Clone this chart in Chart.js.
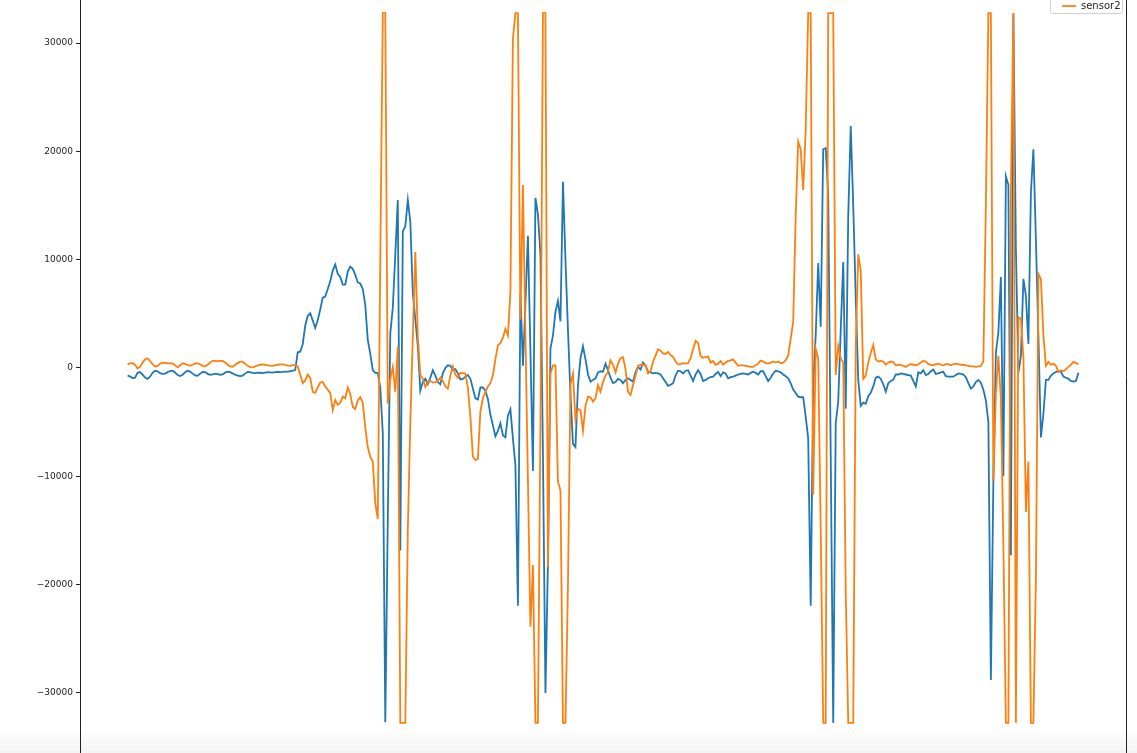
<!DOCTYPE html>
<html>
<head>
<meta charset="utf-8">
<script src="https://cdn.jsdelivr.net/npm/chart.js"></script>
<style>
html, body { margin: 0; padding: 0; background: #fff; }
#wrap { width: 1137px; height: 753px; }
</style>
</head>
<body>
<div id="wrap"><canvas id="plot" width="1137" height="753"></canvas></div>
<script>
// two sensor channels, one sample per index
const seriesNames = ['sensor1', 'sensor2'];

const sensor1 = [
  -710,-780,-920,-900,-450,-380,-620,-880,-1010,-800,
  -450,-260,-300,-480,-550,-520,-380,-280,-250,-420,
  -650,-740,-620,-400,-260,-330,-520,-680,-710,-520,
  -360,-380,-540,-620,-580,-520,-560,-620,-580,-430,
  -340,-380,-500,-620,-700,-740,-700,-520,-360,-380,
  -460,-470,-430,-440,-470,-420,-380,-400,-420,-390,
  -360,-380,-360,-340,-330,-300,-250,-190,1450,1500,
  2200,3900,4800,5050,4400,3700,4400,5400,6500,6600,
  7300,8000,9000,9550,8700,8400,7700,7700,8900,9350,
  9150,8600,7900,7800,7300,5800,2600,1300,-200,-450,
  -450,-1800,-6000,-32700,-14000,3200,5570,10500,15500,-16850,
  12600,13100,15500,13500,6900,4500,2000,-2100,-1300,-1000,
  -1500,-900,-200,-700,-1300,-1500,-500,0,250,200,
  -200,-100,-500,-1050,-1000,-800,-650,-1000,-1900,-2800,
  -2900,-1800,-1800,-2100,-2850,-4300,-5300,-6300,-5800,-5100,
  -6200,-6400,-4400,-3800,-6500,-9000,-21950,6900,200,6000,
  12200,1500,-9500,15700,14200,10500,-8000,-30000,-18000,1800,
  3000,5200,6200,4300,17200,10000,3500,-2500,-7000,-7300,
  -1600,900,2000,800,-600,-1260,-1100,-950,-400,-300,
  -350,400,-200,-900,-1400,-1300,-1000,-1100,-1400,-1100,
  -950,-1100,-1250,-400,100,-150,500,200,-340,-400,
  -500,-450,-500,-600,-950,-1300,-1650,-1550,-1400,-700,
  -250,-300,-500,-250,-200,-700,-1200,-600,-200,-550,
  -1200,-1100,-950,-850,-800,-550,-350,-750,-400,-500,
  -950,-850,-800,-700,-600,-550,-500,-550,-600,-450,
  -340,-450,-600,-300,-300,-750,-1200,-900,-500,-250,
  -300,-400,-600,-750,-950,-1400,-2000,-2300,-2640,-2700,
  -2700,-4500,-6500,-21950,-1500,3000,9700,3800,20200,20300,
  16000,-8000,-32768,-5100,-3100,3500,9780,-3750,14000,22350,
  15000,6500,-1100,-3500,-3200,-3300,-2600,-2300,-1700,-900,
  -800,-1000,-1500,-2200,-1400,-1200,-1100,-600,-600,-500,
  -550,-600,-650,-700,-1200,-1700,-400,-500,-200,-650,
  -550,-300,-150,-550,-500,-400,-350,-750,-800,-800,
  -800,-650,-500,-550,-600,-850,-1400,-1900,-1700,-1300,
  -1100,-1350,-2000,-3000,-5000,-28800,-10400,1400,3300,8400,
  -10000,17700,16900,-17300,32767,10900,-420,1100,8230,6670,
  2230,16200,20200,11800,2900,-6420,-4200,-1100,-1100,-700,
  -500,-350,-300,-350,-800,-900,-1000,-1200,-1260,-1200,-430
];

const sensor2 = [
  340,420,450,300,-50,100,500,800,900,650,
  350,130,200,400,490,480,430,420,430,250,
  60,250,430,380,280,200,300,420,430,350,
  200,150,300,500,660,650,640,660,650,500,
  300,150,120,300,450,580,580,400,200,80,
  60,150,250,300,340,300,250,220,200,250,
  300,340,340,280,220,200,250,280,150,-600,
  -1400,-1150,-600,-900,-2200,-2300,-1800,-1350,-1300,-1700,
  -2000,-2300,-3880,-2950,-3400,-3200,-2650,-2800,-1800,-2400,
  -3600,-3800,-3000,-2700,-3200,-5500,-7300,-8200,-8630,-12500,
  -13950,10000,32767,32767,-3300,-1000,100,-2200,2000,-32768,
  -32768,-32768,-15000,-5000,2900,10700,2900,-650,-1000,-1750,
  -1300,-1200,-1350,-1300,-1200,-880,-1200,-1700,-1900,-700,
  150,-600,-900,-450,-500,-500,-1800,-4500,-8190,-8500,
  -8400,-4000,-2800,-2200,-1700,-1400,-700,800,2100,2300,
  2800,3600,3000,7000,30400,32767,32767,4460,16900,3000,
  -10400,-23900,-18200,-32768,-32768,-5000,32767,32767,-18400,-500,
  240,240,-10500,-11300,-32768,-32768,-20000,-1500,-500,-4800,
  -3750,-3900,-5800,-3500,-2640,-2700,-3100,-2800,-1570,-2190,
  -1300,-700,-340,700,300,-400,400,900,990,-100,
  -2200,-2500,-1570,-700,200,300,300,250,-500,-300,
  590,1150,1720,1600,1350,1300,1500,1200,1050,600,
  320,350,450,400,450,900,1700,2500,2300,1100,
  950,1000,1050,500,650,300,400,650,300,500,
  650,700,800,500,200,250,250,200,150,100,
  100,250,400,680,600,450,400,500,600,500,
  600,450,500,700,1130,2700,4250,14000,20900,20200,
  16450,22000,32767,32767,-11700,1790,900,-14850,-32768,-32768,
  32767,32767,32767,-650,2030,900,500,-20600,-32768,-32768,
  -32768,2000,10500,9000,-1000,-700,500,1400,2120,800,
  600,650,600,300,500,600,550,250,300,280,
  200,100,250,350,300,250,350,500,650,600,
  350,300,250,350,400,300,250,350,350,250,
  350,400,350,300,300,250,200,150,150,100,
  150,200,600,15000,32767,32767,-10400,-2400,1130,-2860,
  -16400,-32768,-32768,16200,32767,-32768,4700,4500,1000,-13300,
  -8630,-32768,-32768,-19300,8680,8230,3000,200,580,300,
  400,200,-340,-200,-300,-100,100,300,580,450,350
];

const yTicks = [-30000, -20000, -10000, 0, 10000, 20000, 30000];
const yLimits = [-35550, 33980];
const lineColors = ['#1f77b4', '#ff7f0e'];

const n = sensor1.length;
const toPoints = arr => arr.map((v, i) => ({ x: i, y: v }));

const frame = {
  id: 'frame',
  beforeDraw(chart) {
    const c = chart.ctx;
    c.save();
    const g = c.createLinearGradient(0, 728, 0, 753);
    g.addColorStop(0, 'rgba(244,244,244,0)');
    g.addColorStop(1, 'rgba(244,244,244,1)');
    c.fillStyle = g;
    c.fillRect(0, 728, chart.width, 25);
    c.restore();
  },
  afterDraw(chart) {
    const c = chart.ctx;
    const a = chart.chartArea;
    c.save();
    // right spine
    c.strokeStyle = '#222';
    c.lineWidth = 1;
    c.beginPath();
    c.moveTo(Math.round(a.right) + 0.5, 0);
    c.lineTo(Math.round(a.right) + 0.5, chart.height);
    c.stroke();
    // legend (upper entry is cut off by the top edge)
    c.fillStyle = 'rgba(255,255,255,0.85)';
    c.strokeStyle = '#d0d0d0';
    c.beginPath();
    c.roundRect(1050.5, -20.5, 72, 34, 2);
    c.fill();
    c.stroke();
    const rows = [{ y: -7, i: 0 }, { y: 6, i: 1 }];
    rows.forEach(r => {
      c.strokeStyle = lineColors[r.i];
      c.lineWidth = 1.8;
      c.beginPath();
      c.moveTo(1062, r.y);
      c.lineTo(1076, r.y);
      c.stroke();
      c.fillStyle = '#222';
      c.font = '10px "DejaVu Sans"';
      c.textBaseline = 'middle';
      c.fillText(seriesNames[r.i], 1081, r.y + 0.5);
    });
    c.restore();
  }
};

new Chart(document.getElementById('plot'), {
  type: 'line',
  data: {
    datasets: [
      { label: seriesNames[0], data: toPoints(sensor1), borderColor: lineColors[0], borderWidth: 1.8, pointRadius: 0, tension: 0, order: 2 },
      { label: seriesNames[1], data: toPoints(sensor2), borderColor: lineColors[1], borderWidth: 1.8, pointRadius: 0, tension: 0, order: 1 }
    ]
  },
  options: {
    responsive: false,
    animation: false,
    layout: { padding: { left: 0, right: 11, top: 0, bottom: 0 } },
    plugins: { legend: { display: false }, tooltip: { enabled: false } },
    scales: {
      x: { type: 'linear', display: false, min: -0.05 * (n - 1), max: 1.05 * (n - 1) },
      y: {
        min: yLimits[0],
        max: yLimits[1],
        afterBuildTicks: s => { s.ticks = yTicks.map(v => ({ value: v })); },
        afterFit: s => { s.width = 80; s.paddingTop = 0; s.paddingBottom = 0; },
        ticks: {
          callback: v => String(v).replace('-', '\u2212'),
          font: { family: 'DejaVu Sans', size: 9 },
          color: '#222',
          padding: 3,
          autoSkip: false,
          maxRotation: 0
        },
        grid: { drawOnChartArea: false, drawTicks: true, tickLength: 4, tickColor: '#222' },
        border: { display: true, color: '#222', width: 1 }
      }
    }
  },
  plugins: [frame]
});
</script>
</body>
</html>
